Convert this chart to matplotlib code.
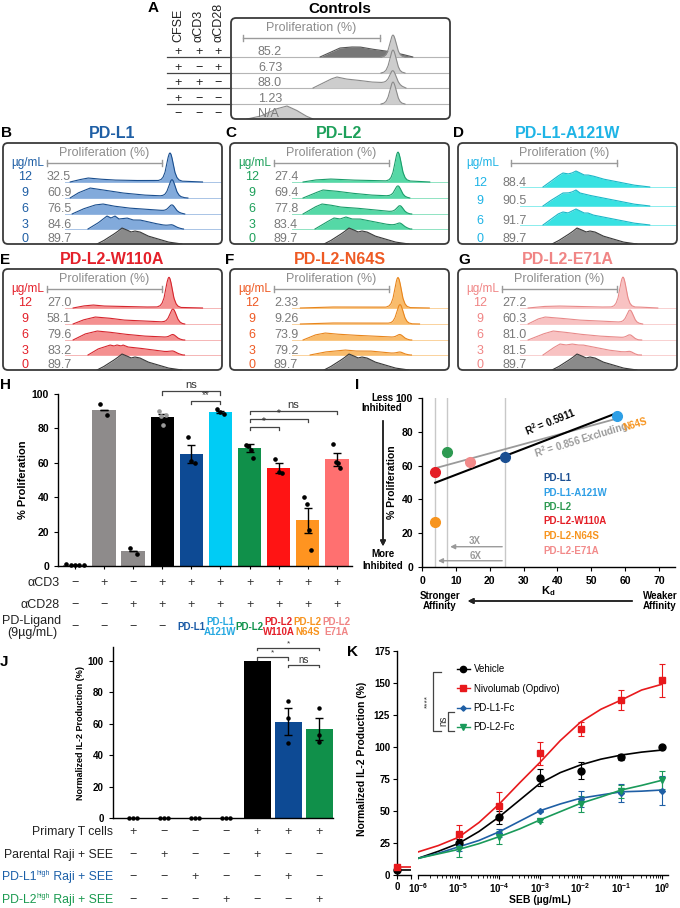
import numpy as np
import matplotlib.pyplot as plt
from matplotlib.patches import FancyBboxPatch
from matplotlib.lines import Line2D

plt.rcParams['font.family'] = ['Liberation Sans', 'DejaVu Sans']
plt.rcParams['mathtext.fontset'] = 'custom'
plt.rcParams['mathtext.rm'] = 'Liberation Sans'
plt.rcParams['mathtext.it'] = 'Liberation Sans:italic'
plt.rcParams['mathtext.bf'] = 'Liberation Sans:bold'
plt.rcParams['axes.linewidth'] = 1.0

MINUS = '\u2212'

# ---------------- flow histogram data (x = px from box left, h = px) ----------------
peak_dx = [-12, -9, -7, -5, -3.5, -2, -1, 0, 1, 2, 3.5, 5, 7, 9, 12]
peak_rel = [0, .04, .12, .3, .55, .82, .95, 1, .95, .82, .55, .3, .12, .04, 0]

grey0_x = [94, 100, 108, 114, 119, 124, 128, 132, 137, 145, 155, 165, 179]
grey0_h = [0, 3, 8, 12, 16, 14, 12, 13, 12, 8, 5, 2, 0]

doses = ['12', '9', '6', '3']

# controls (A)
a_cfse = ['+', '+', '+', '+', MINUS]
a_cd3 = ['+', MINUS, '+', MINUS, MINUS]
a_cd28 = ['+', '+', MINUS, MINUS, MINUS]
a_vals = ['85.2', '6.73', '88.0', '1.23', 'N/A']
a_bx = [[89, 100, 109, 120, 129, 140, 155, 170, 182], [],
        [82, 90, 100, 106, 115, 125, 140, 160, 175], [],
        [16, 30, 45, 56, 65, 75, 82]]
a_bh = [[0, 5, 9, 10, 10, 8, 6, 3, 0], [],
        [0, 4, 9, 11, 9, 8, 6, 5, 0], [],
        [0, 3, 10, 13, 9, 3, 0]]
a_pk_x = [162, 162, 162, 162, 162]
a_pk_h = [22, 23, 13, 22, 0]

# PD-L1 (B)
b_vals = ['32.5', '60.9', '76.5', '84.6']
b_bx = [[67, 75, 85, 95, 110, 130, 150, 175, 200], [67, 75, 87, 100, 120, 140, 160, 175, 185],
        [69, 80, 92, 100, 110, 125, 140, 155, 170, 182],
        [85, 95, 104, 108, 112, 116, 124, 130, 137, 150, 165, 180]]
b_bh = [[0, 2, 4, 3, 2, 1.5, 1.5, 1, 0], [0, 5, 10, 8, 5, 3, 2, 1, 0],
        [0, 5, 9, 10, 8, 6, 5, 4, 2, 0], [0, 6, 13, 11, 13, 10, 11, 9, 9, 6, 3, 0]]
b_pk_x = [167, 169, 169, 169]
b_pk_h = [28, 17, 7, 2]

# PD-L2 (C)
c_vals = ['27.4', '69.4', '77.8', '83.4']
c_bx = [[73, 85, 100, 120, 140, 160, 180, 200], [73, 85, 93, 105, 120, 140, 160, 180],
        [73, 85, 92, 100, 110, 125, 145, 165, 180],
        [85, 95, 104, 110, 116, 122, 130, 140, 155, 170, 180]]
c_bh = [[0, 2, 3, 2, 1.5, 1, 1, 0], [0, 5, 8, 7, 5, 3, 2, 0],
        [0, 7, 10, 9, 7, 6, 4, 2, 0], [0, 6, 11, 10, 12, 10, 10, 8, 5, 3, 0]]
c_pk_x = [168, 168, 170, 170]
c_pk_h = [29, 11, 7, 3]

# PD-L1-A121W (D)
d_doses = ['12', '9', '6']
d_vals = ['88.4', '90.5', '91.7']
d_x = [85, 92, 100, 105, 110, 114, 118, 122, 126, 130, 135, 145, 160, 175, 192]
d_bh = [[0, 5, 11, 14, 13, 14, 16, 14, 12, 12, 11, 8, 5, 2, 0],
        [0, 5, 10, 13, 13, 14, 16, 13, 12, 11, 10, 8, 5, 2, 0],
        [0, 5, 11, 13, 12, 14, 16, 14, 12, 12, 10, 8, 5, 2, 0]]

# PD-L2-W110A (E)
e_vals = ['27.0', '58.1', '79.6', '83.2']
e_bx = [[70, 80, 90, 100, 120, 140, 160, 180, 200], [70, 80, 92, 105, 120, 140, 160, 180],
        [70, 82, 94, 105, 120, 140, 160, 180],
        [85, 95, 107, 111, 114, 118, 120, 125, 135, 150, 165, 180]]
e_bh = [[0, 2, 3, 2, 1.5, 1, 1, 0.5, 0], [0, 4, 7, 6, 4, 3, 2, 0],
        [0, 6, 9, 8, 6, 4, 3, 0], [0, 6, 10, 9, 10, 9, 10, 8, 7, 5, 3, 0]]
e_pk_x = [166, 170, 170, 170]
e_pk_h = [30, 14, 4, 2]

# PD-L2-N64S (F)
f_vals = ['2.33', '9.26', '73.9', '79.2']
f_bx = [[70, 100, 150, 200], [70, 100, 150, 190],
        [73, 85, 95, 105, 120, 140, 160, 180], [80, 95, 105, 115, 125, 140, 160, 180]]
f_bh = [[0, 1, 1, 0], [0, 1, 1, 0], [0, 5, 7, 6, 5, 4, 3, 0], [0, 3, 4, 5, 4, 4, 2, 0]]
f_pk_x = [168, 170, 170, 170]
f_pk_h = [30, 19, 4, 2]

# PD-L2-E71A (G)
g_vals = ['27.2', '60.3', '81.0', '81.5']
g_bx = [[70, 85, 100, 120, 140, 160, 180, 200], [70, 80, 87, 100, 120, 140, 160, 185],
        [70, 85, 95, 105, 120, 140, 160, 180],
        [85, 95, 102, 108, 114, 120, 125, 135, 150, 165, 180]]
g_bh = [[0, 1.5, 2, 1.5, 1, 1, 1, 0], [0, 5, 7, 6, 4, 3, 2, 0],
        [0, 6, 9, 8, 6, 4, 3, 0], [0, 7, 11, 10, 11, 10, 10, 8, 5, 3, 0]]
g_pk_x = [165, 172, 172, 172]
g_pk_h = [30, 13, 4, 2]

# ---------------- H ----------------
h_cd3 = [MINUS, '+', MINUS, '+', '+', '+', '+', '+', '+', '+']
h_cd28 = [MINUS, MINUS, '+', '+', '+', '+', '+', '+', '+', '+']
h_lig = [MINUS, MINUS, MINUS, MINUS, 'PD-L1', 'PD-L1\nA121W', 'PD-L2',
         'PD-L2\nW110A', 'PD-L2\nN64S', 'PD-L2\nE71A']
h_mean = [0.6, 90.8, 8.5, 86.8, 65.2, 89.7, 68.6, 56.8, 26.5, 62]
h_sem = [0.2, 0, 0, 1.5, 5.2, 0.6, 2.4, 2.9, 7.1, 3.8]
h_pts = [[1.0, 0.7, 0.5, 0.4, 0.3], [94, 88], [10.5, 6.8], [90, 87, 82, 88],
         [75, 61, 60], [91, 89.5, 88.5], [70.5, 70, 67.5, 63], [62, 54.5, 54],
         [40, 36, 21, 9.5], [71, 60.5, 60, 57]]
h_colors = ['#8E8B8B', '#8E8B8B', '#8E8B8B', '#000000', '#0D4A94', '#00CCF5',
            '#10904A', '#FF1414', '#FF9420', '#FF7070']
h_lig_colors = ['#333333'] * 4 + ['#1A5AA6', '#27A9E1', '#12934C', '#E4202A', '#F7931E', '#F08585']
h_sig = [(3, 5, 101.7, 'ns'), (4, 5, 95.9, '**'), (6, 9, 90.1, 'ns'),
         (6, 8, 85.5, '*'), (6, 7, 80.8, '*')]

# ---------------- I ----------------
i_names = ['PD-L1', 'PD-L1-A121W', 'PD-L2', 'PD-L2-W110A', 'PD-L2-N64S', 'PD-L2-E71A']
i_kd = [24.5, 57.5, 7.5, 3.9, 3.9, 14.3]
i_prolif = [65, 89.5, 68, 56, 26.5, 62]
i_colors = ['#1A4E91', '#2E9FE6', '#2E9A52', '#E41E26', '#F7941E', '#F28A8A']
i_vline_idx = [3, 2, 0]

# ---------------- J ----------------
j_rows = [('Primary T cells', '', ''), ('Parental Raji + SEE', '', ''),
          ('PD-L1', 'high', ' Raji + SEE'), ('PD-L2', 'high', ' Raji + SEE')]
j_row_colors = ['#222222', '#222222', '#1A5FA8', '#1A9A50']
j_signs = [['+', MINUS, MINUS, MINUS, '+', '+', '+'],
           [MINUS, '+', MINUS, MINUS, '+', MINUS, MINUS],
           [MINUS, MINUS, '+', MINUS, MINUS, '+', MINUS],
           [MINUS, MINUS, MINUS, '+', MINUS, MINUS, '+']]
j_mean = [0, 0, 0, 0, 100, 61.5, 56.5]
j_sem = [0, 0, 0, 0, 0, 8.5, 7]
j_pts = [[0, 0, 0], [0, 0, 0], [0, 0, 0], [0, 0, 0], [100, 100, 100],
         [74.5, 63.5, 47.5], [70, 53, 48.5]]
j_colors = ['#000000'] * 5 + ['#0D4A94', '#10904A']
j_sig = [(4, 6, 108.3, '*'), (4, 5, 102.5, '*'), (5, 6, 97.5, 'ns')]

# ---------------- K ----------------
k_names = ['Vehicle', 'Nivolumab (Opdivo)', 'PD-L1-Fc', 'PD-L2-Fc']
k_colors = ['#000000', '#E8191C', '#1F5FA5', '#1A9A5A']
k_markers = ['o', 's', 'D', 'v']
k_ms = [5, 5, 3, 4.5]
k_dose = [1e-5, 1e-4, 1e-3, 1e-2, 1e-1, 1]
k_veh = [25.2, 45, 76, 81.5, 92.4, 100]
k_veh_err = [3, 5, 6.5, 6.5, 2.5, 0]
k_niv = [32, 54, 95, 113.8, 136.7, 152]
k_niv_err = [7, 11, 9, 5.5, 8, 13]
k_pdl1 = [22, 33, 50, 59.5, 64, 66]
k_pdl1_err = [3, 3, 1, 6, 7, 11]
k_pdl2 = [20, 29.5, 42.5, 55.5, 65.5, 74]
k_pdl2_err = [6, 5, 1, 6, 5, 7]
k_zero = [4, 6.5]
k_fit_exp = [-6, -5.5, -5, -4.5, -4, -3.5, -3, -2.5, -2, -1.5, -1, -0.5, 0]
k_fit_veh = [13, 18.5, 24.7, 34, 45.5, 58.5, 71.6, 80, 86, 90.5, 93.7, 96, 97.6]
k_fit_niv = [18, 23, 29.5, 41, 55.5, 72, 88, 105, 119.5, 129.5, 136.7, 144.5, 149]
k_fit_pdl1 = [13, 17, 22, 27, 33.8, 42, 50.2, 55.5, 60, 62.5, 65, 65.5, 66.4]
k_fit_pdl2 = [13, 16.5, 20, 24.5, 30, 36, 43, 49.5, 56, 61, 66.4, 70, 74]

# ---------------- figure helpers ----------------
W, H = 680, 908
fig = plt.figure(figsize=(W / 100, H / 100), dpi=100)
renderer = fig.canvas.get_renderer()


def ax_px(x0, y0, x1, y1):
    return fig.add_axes([x0 / W, 1 - y1 / H, (x1 - x0) / W, (y1 - y0) / H])


def ftext(x, y, s, **kw):
    return fig.text(x / W, 1 - y / H, s, **kw)


def fline(xs, ys, **kw):
    fig.add_artist(Line2D([x / W for x in xs], [1 - y / H for y in ys], **kw))


def farrow(x0, y0, x1, y1, color='#222222'):
    fig.add_artist(plt.annotate('', xy=(x1 / W, 1 - y1 / H), xytext=(x0 / W, 1 - y0 / H),
                                xycoords='figure fraction', textcoords='figure fraction',
                                arrowprops=dict(arrowstyle='-|>', color=color, lw=1.1,
                                                mutation_scale=8)))


def letter(x, y, s):
    ftext(x, y, s, fontsize=11, fontweight='bold', ha='left', va='center')


BW, BH = 219, 101
XG = np.linspace(0, BW, 900)
GREY_FILL, GREY_EDGE = '#8A8A8A', '#3A3A3A'
VAL_COL = '#7A7A7A'


def hist_axes(x0, y0):
    ax = ax_px(x0, y0, x0 + BW, y0 + BH)
    ax.set_xlim(0, BW)
    ax.set_ylim(0, BH)
    ax.axis('off')
    ax.add_patch(FancyBboxPatch((0, 0), BW, BH, boxstyle='round,pad=0,rounding_size=5',
                                fill=False, ec='#3A3A3A', lw=1.3, clip_on=False, zorder=30))
    return ax


def draw_hist(ax, base, bx, bh, px, ph, fill, edge, z):
    h = np.zeros_like(XG)
    if len(bx):
        h = h + np.interp(XG, bx, bh, left=0, right=0)
    if ph:
        h = h + np.interp(XG, px + np.array(peak_dx), ph * np.array(peak_rel), left=0, right=0)
    ax.fill_between(XG, base, base + h, where=h > 0.01, interpolate=True, color=fill, lw=0, zorder=z)
    ax.plot(XG, np.where(h > 0.01, base + h, np.nan), color=edge, lw=0.8, zorder=z + 0.5)


def header(ax, unit_col, b0=44, b1=159, unit=True):
    if unit:
        ax.text(41, 81, 'µg/mL', color=unit_col, fontsize=8.5, ha='right', va='center')
    ax.plot([b0, b1], [81, 81], color='#9A9A9A', lw=1)
    ax.plot([b0, b0], [78, 84], color='#9A9A9A', lw=1)
    ax.plot([b1, b1], [78, 84], color='#9A9A9A', lw=1)
    ax.text((b0 + b1) / 2, 91, 'Proliferation (%)', color='#8C8C8C', fontsize=9,
            ha='center', va='center')


def ligand_panel(x0, y0, title, tcol, fill, edge, base_col, dlist, vals, bxs, bhs, pkx, pkh, offs, b0=44):
    ax = hist_axes(x0, y0)
    ftext(x0 + BW / 2, y0 - 9.5, title, color=tcol, fontsize=11.5, fontweight='bold',
          ha='center', va='center')
    header(ax, tcol, b0=b0)
    n = len(dlist)
    for i in range(n):
        base = offs[i]
        ax.plot([62, BW], [base, base], color=base_col, lw=0.7, zorder=2 + 2 * i)
        draw_hist(ax, base, bxs[i], bhs[i], pkx[i], pkh[i], fill, edge, 2 + 2 * i)
        ax.text(22, base + 4.5, dlist[i], color=tcol, fontsize=9, ha='center', va='center', zorder=40)
        ax.text(44, base + 4.5, vals[i], color=VAL_COL, fontsize=9, ha='left', va='center', zorder=40)
    draw_hist(ax, 0, grey0_x, grey0_h, 0, 0, GREY_FILL, GREY_EDGE, 2 + 2 * n)
    ax.text(22, 4.5, '0', color=tcol, fontsize=9, ha='center', va='center', zorder=40)
    ax.text(44, 4.5, '89.7', color=VAL_COL, fontsize=9, ha='left', va='center', zorder=40)
    return ax


OFF5 = [62, 46, 30, 15]
OFF4 = [57, 38, 19]

# ---------------- A ----------------
letter(148, 8, 'A')
axA = hist_axes(231, 18)
ftext(340, 9, 'Controls', fontsize=11, fontweight='bold', ha='center', va='center')
header(axA, '#000', b0=12, b1=149, unit=False)
a_offs = [62, 46, 31, 15, 0]
for i in range(5):
    base = a_offs[i]
    if i < 4:
        axA.plot([0, BW], [base, base], color='#B5B5B5', lw=0.8, zorder=2 + 3 * i)
        fline([167, 231], [18 + BH - base] * 2, color='#444444', lw=0.9)
    if i == 0:
        draw_hist(axA, base, a_bx[i], a_bh[i], 0, 0, '#777777', '#555555', 2 + 3 * i)
        draw_hist(axA, base, [], [], a_pk_x[i], a_pk_h[i], '#CDCDCD', '#8A8A8A', 3 + 3 * i)
    else:
        draw_hist(axA, base, a_bx[i], a_bh[i], a_pk_x[i], a_pk_h[i], '#CDCDCD', '#8A8A8A', 2 + 3 * i)
    axA.text(27, base + 5, a_vals[i], color=VAL_COL, fontsize=9, ha='left', va='center', zorder=40)
    yrow = 18 + BH - base - 5
    for xx, sym in zip([178, 199, 218], [a_cfse[i], a_cd3[i], a_cd28[i]]):
        ftext(xx, yrow, sym, fontsize=9, color='#222222', ha='center', va='center')
for xx, s in zip([178, 199, 218], ['CFSE', '\u03b1CD3', '\u03b1CD28']):
    ftext(xx, 42, s, fontsize=9, rotation=90, ha='center', va='bottom', color='#222222')

# ---------------- B-G ----------------
letter(1, 133, 'B')
ligand_panel(3, 143, 'PD-L1', '#1F5FA5', '#82AADB', '#1B4F8F', '#A9C4E6', doses, b_vals,
             b_bx, b_bh, b_pk_x, b_pk_h, OFF5)
letter(225, 133, 'C')
ligand_panel(230, 143, 'PD-L2', '#1DA05A', '#55D8A6', '#1A9E6B', '#8FE3C2', doses, c_vals,
             c_bx, c_bh, c_pk_x, c_pk_h, OFF5)
letter(453, 133, 'D')
ligand_panel(458, 143, 'PD-L1-A121W', '#1EB4E6', '#38E2E2', '#1BB8C8', '#8AEDED', d_doses, d_vals,
             [d_x] * 3, d_bh, [0, 0, 0], [0, 0, 0], OFF4, b0=53)
letter(0, 260, 'E')
ligand_panel(3, 269, 'PD-L2-W110A', '#E4202A', '#F49090', '#D6262E', '#F5B5B5', doses, e_vals,
             e_bx, e_bh, e_pk_x, e_pk_h, OFF5)
letter(225, 260, 'F')
ligand_panel(230, 269, 'PD-L2-N64S', '#EE5A24', '#F9BC6C', '#E8851C', '#FAD29C', doses, f_vals,
             f_bx, f_bh, f_pk_x, f_pk_h, OFF5)
letter(458, 260, 'G')
ligand_panel(458, 269, 'PD-L2-E71A', '#F08585', '#F8C2C2', '#E88A8A', '#F8D0D0', doses, g_vals,
             g_bx, g_bh, g_pk_x, g_pk_h, OFF5)

# ---------------- H ----------------
letter(0, 385, 'H')
axH = ax_px(58, 394, 352, 566)
xh = np.arange(len(h_mean))
axH.bar(xh, h_mean, width=0.8, color=h_colors, zorder=2)
axH.errorbar(xh, h_mean, yerr=h_sem, fmt='none', ecolor='#000000', elinewidth=1, capsize=3,
             capthick=1, zorder=3)
for i, pts in enumerate(h_pts):
    spread = 0.3 if i == 0 else 0.12
    offs = np.linspace(-spread, spread, len(pts))
    axH.plot(xh[i] + offs, pts, 'o', ms=2.3, color='#9A9A9A' if i == 3 else '#000000',
             zorder=4, clip_on=False)
for i, j, y, lab in h_sig:
    axH.plot([i, i, j, j], [y - 2, y, y, y - 2], color='#444444', lw=0.9, clip_on=False)
    axH.text((i + j) / 2, y + 0.6, lab, ha='center', va='bottom', color='#333333',
             fontsize=8 if lab == 'ns' else 7)
axH.set_xlim(-0.58, 9.52)
axH.set_ylim(0, 100)
axH.set_yticks(range(0, 101, 20))
axH.set_xticks(xh)
axH.set_xticklabels([])
axH.tick_params(axis='x', length=2)
axH.tick_params(axis='y', labelsize=7.5, length=3)
for t in axH.get_yticklabels():
    t.set_fontweight('bold')
axH.spines[['top', 'right']].set_visible(False)
axH.set_ylabel('% Proliferation', fontsize=8, fontweight='bold')
axH.yaxis.set_label_coords(-0.102, 0.5)
tr = axH.get_xaxis_transform()
ya = lambda ypx: (566 - ypx) / 172.0
for i in range(len(xh)):
    axH.text(xh[i], ya(583), h_cd3[i], transform=tr, ha='center', va='center', fontsize=9, color='#333333')
    axH.text(xh[i], ya(605), h_cd28[i], transform=tr, ha='center', va='center', fontsize=9, color='#333333')
    if i < 4:
        axH.text(xh[i], ya(627), h_lig[i], transform=tr, ha='center', va='center', fontsize=9, color='#333333')
    else:
        axH.text(xh[i], ya(627), h_lig[i], transform=tr, ha='center', va='center', fontsize=7,
                 fontweight='bold', color=h_lig_colors[i], linespacing=1.0)
ftext(60, 583, '\u03b1CD3', fontsize=9, ha='right', va='center', color='#222222')
ftext(60, 605, '\u03b1CD28', fontsize=9, ha='right', va='center', color='#222222')
ftext(32, 627, 'PD-Ligand\n(9µg/mL)', fontsize=9, ha='center', va='center', color='#222222',
      linespacing=1.0)

# ---------------- I ----------------
letter(355, 385, 'I')
axI = ax_px(422, 398, 675, 567)
axI.set_xlim(0, 74.7)
axI.set_ylim(0, 100)
for k in i_vline_idx:
    axI.plot([i_kd[k], i_kd[k]], [0, 100], color='#C8C8C8', lw=1, zorder=1)
kd = np.array(i_kd)
pr = np.array(i_prolif)
keep = np.array([n != 'PD-L2-N64S' for n in i_names])
s2, c2 = np.polyfit(kd[keep], pr[keep], 1)
s1, c1 = np.polyfit(kd, pr, 1)
xl = np.array([kd.min(), kd.max()])
axI.plot(xl, s2 * xl + c2, color='#9A9A9A', lw=1.3, zorder=2)
axI.plot(xl, s1 * xl + c1, color='#000000', lw=1.5, zorder=3)
for k in range(len(i_kd)):
    axI.plot(i_kd[k], i_prolif[k], 'o', ms=7, color=i_colors[k], zorder=4, clip_on=False)
axI.annotate('', xy=(i_kd[2], 12), xytext=(i_kd[0], 12),
             arrowprops=dict(arrowstyle='-|>', color='#9A9A9A', lw=1, mutation_scale=7))
axI.annotate('', xy=(i_kd[3], 3.7), xytext=(i_kd[0], 3.7),
             arrowprops=dict(arrowstyle='-|>', color='#9A9A9A', lw=1, mutation_scale=7))
axI.text(15.7, 15.5, '3X', color='#9A9A9A', fontsize=7, fontweight='bold', ha='center', va='center')
axI.text(15.7, 6.8, '6X', color='#9A9A9A', fontsize=7, fontweight='bold', ha='center', va='center')
axI.set_xticks(range(0, 71, 10))
axI.set_yticks(range(0, 101, 20))
axI.tick_params(labelsize=7.5, length=3)
for t in axI.get_xticklabels() + axI.get_yticklabels():
    t.set_fontweight('bold')
axI.spines[['top', 'right']].set_visible(False)
axI.set_ylabel('% Proliferation', fontsize=7.5, fontweight='bold')
axI.yaxis.set_label_coords(-0.099, 0.5)
for k in range(len(i_names)):
    ftext(543, 478 + 14.5 * k, i_names[k], color=i_colors[k], fontsize=7, fontweight='bold',
          ha='left', va='center')
ftext(550, 422, r'R$^{\mathbf{2}}$ = 0.5911', fontsize=7, fontweight='bold', rotation=22,
      ha='center', va='center')
ftext(535, 454, r'R$^{\mathbf{2}}$ = 0.856 Excluding', fontsize=7, fontweight='bold',
      color='#9A9A9A', rotation=17, ha='left', va='center', rotation_mode='anchor')
ftext(623, 428, 'N64S', fontsize=7, fontweight='bold', color='#F7941E', rotation=17,
      ha='left', va='center', rotation_mode='anchor')
ftext(382, 398, 'Less', fontsize=7, fontweight='bold', ha='center', va='center')
ftext(382, 408, 'Inhibited', fontsize=7, fontweight='bold', ha='center', va='center')
ftext(383, 554, 'More', fontsize=7, fontweight='bold', ha='center', va='center')
ftext(383, 566, 'Inhibited', fontsize=7, fontweight='bold', ha='center', va='center')
farrow(383, 418, 383, 549)
ftext(440, 596, 'Stronger', fontsize=7, fontweight='bold', ha='center', va='center')
ftext(440, 606, 'Affinity', fontsize=7, fontweight='bold', ha='center', va='center')
ftext(660, 596, 'Weaker', fontsize=7, fontweight='bold', ha='center', va='center')
ftext(660, 606, 'Affinity', fontsize=7, fontweight='bold', ha='center', va='center')
farrow(635, 601, 465, 601)
ftext(548, 591, r'K$_{\mathbf{d}}$', fontsize=8, fontweight='bold', ha='center', va='center')

# ---------------- J ----------------
letter(0, 662, 'J')
axJ = ax_px(113, 647, 333, 818)
xj = np.arange(len(j_mean))
axJ.bar(xj, j_mean, width=0.87, color=j_colors, zorder=2)
axJ.errorbar(xj[5:], j_mean[5:], yerr=j_sem[5:], fmt='none', ecolor='#000000', elinewidth=1,
             capsize=3, capthick=1, zorder=3)
for i, pts in enumerate(j_pts):
    if i == 4:
        continue
    offs = np.linspace(-0.12, 0.12, len(pts)) if i < 4 else np.zeros(len(pts))
    axJ.plot(xj[i] + offs, pts, 'o', ms=2.2, color='#000000', zorder=4, clip_on=False)
for i, j, y, lab in j_sig:
    axJ.plot([i, i, j, j], [y - 1.5, y, y, y - 1.5], color='#444444', lw=0.9, clip_on=False)
    axJ.text((i + j) / 2, y + 0.3, lab, ha='center', va='bottom', color='#333333',
             fontsize=7 if lab == 'ns' else 6)
axJ.set_xlim(-0.65, 6.45)
axJ.set_ylim(0, 109)
axJ.set_yticks(range(0, 101, 20))
axJ.set_xticks([])
axJ.tick_params(axis='y', labelsize=7, length=3)
for t in axJ.get_yticklabels():
    t.set_fontweight('bold')
axJ.spines[['top', 'right']].set_visible(False)
axJ.set_ylabel('Normalized IL-2 Production (%)', fontsize=6.5, fontweight='bold')
axJ.yaxis.set_label_coords(-0.127, 0.5)
trJ = axJ.get_xaxis_transform()
for r in range(len(j_rows)):
    ypx = 832 + 22.7 * r
    main, sup, rest = j_rows[r]
    xr = 113
    if rest:
        t = ftext(xr, ypx, rest, fontsize=8.8, color=j_row_colors[r], ha='right', va='center')
        xr = t.get_window_extent(renderer).x0
    if sup:
        t = ftext(xr, ypx - 3.5, sup, fontsize=5, color=j_row_colors[r], ha='right', va='center')
        xr = t.get_window_extent(renderer).x0
    ftext(xr, ypx, main, fontsize=8.8, color=j_row_colors[r], ha='right', va='center')
    for i in range(len(xj)):
        axJ.text(xj[i], (818 - ypx) / 171.0, j_signs[r][i], transform=trJ, ha='center',
                 va='center', fontsize=9, color='#333333')

# ---------------- K ----------------
letter(347, 652, 'K')
axK0 = ax_px(397, 651, 411, 875)
axK = ax_px(418, 651, 668, 875)
for a in (axK0, axK):
    a.set_ylim(0, 175)
    a.spines[['top', 'right']].set_visible(False)
axK0.set_xlim(0, 1)
axK0.set_xticks([0, 1])
axK0.set_xticklabels(['0', ''])
axK0.set_yticks(range(0, 176, 25))
axK0.tick_params(labelsize=7, length=3, pad=2)
for t in axK0.get_xticklabels() + axK0.get_yticklabels():
    t.set_fontweight('bold')
axK0.plot([0, 1], [k_zero[0]] * 2, color=k_colors[0], lw=1.2)
axK0.plot([0, 1], [k_zero[1]] * 2, color=k_colors[1], lw=1.2)
axK0.plot(0, k_zero[0], 'o', ms=5, color=k_colors[0], clip_on=False, zorder=5)
axK0.plot(0, k_zero[1], 's', ms=5, color=k_colors[1], clip_on=False, zorder=5)
axK0.set_ylabel('Normalized IL-2 Production (%)', fontsize=7.5, fontweight='bold')
axK0.yaxis.set_label_coords(-2.15, 0.52)

axK.set_xscale('log')
axK.set_xlim(1e-6, 10 ** 0.15)
axK.spines['left'].set_visible(False)
axK.set_yticks([])
axK.set_xticks([10.0 ** e for e in range(-6, 1)])
axK.set_xticklabels([r'$\mathbf{10^{%d}}$' % e for e in range(-6, 1)])
axK.tick_params(labelsize=7, length=3, pad=1.5)
axK.tick_params(which='minor', length=1.8)
fit_x = 10 ** np.array(k_fit_exp)
series = [(k_veh, k_veh_err, k_fit_veh), (k_niv, k_niv_err, k_fit_niv),
          (k_pdl1, k_pdl1_err, k_fit_pdl1), (k_pdl2, k_pdl2_err, k_fit_pdl2)]
for s, (yv, ye, yf) in enumerate(series):
    axK.plot(fit_x, yf, color=k_colors[s], lw=1.2, zorder=2)
    axK.errorbar(k_dose, yv, yerr=ye, fmt=k_markers[s], color=k_colors[s], ms=k_ms[s],
                 elinewidth=0.8, capsize=2, capthick=0.8, zorder=3, clip_on=False)
handles = [Line2D([], [], color=k_colors[s], marker=k_markers[s], ms=k_ms[s] * 0.9, lw=1)
           for s in range(4)]
axK.legend(handles, k_names, loc='upper left', bbox_to_anchor=(0.156, 0.94), frameon=False,
           fontsize=7, handlelength=1.3, handletextpad=0.4, labelspacing=0.95, borderpad=0,
           borderaxespad=0)
fline([441, 433, 433, 441], [672, 672, 731, 731], color='#444444', lw=0.9)
fline([454, 448, 448, 454], [712, 712, 731, 731], color='#444444', lw=0.9)
ftext(428, 701, '****', fontsize=6, rotation=90, ha='center', va='center', color='#333333')
ftext(443, 721, 'ns', fontsize=7, rotation=90, ha='center', va='center', color='#333333')
ftext(540, 900, 'SEB (µg/mL)', fontsize=7.5, fontweight='bold', ha='center', va='center')

fig.savefig('out.png', dpi=100)
